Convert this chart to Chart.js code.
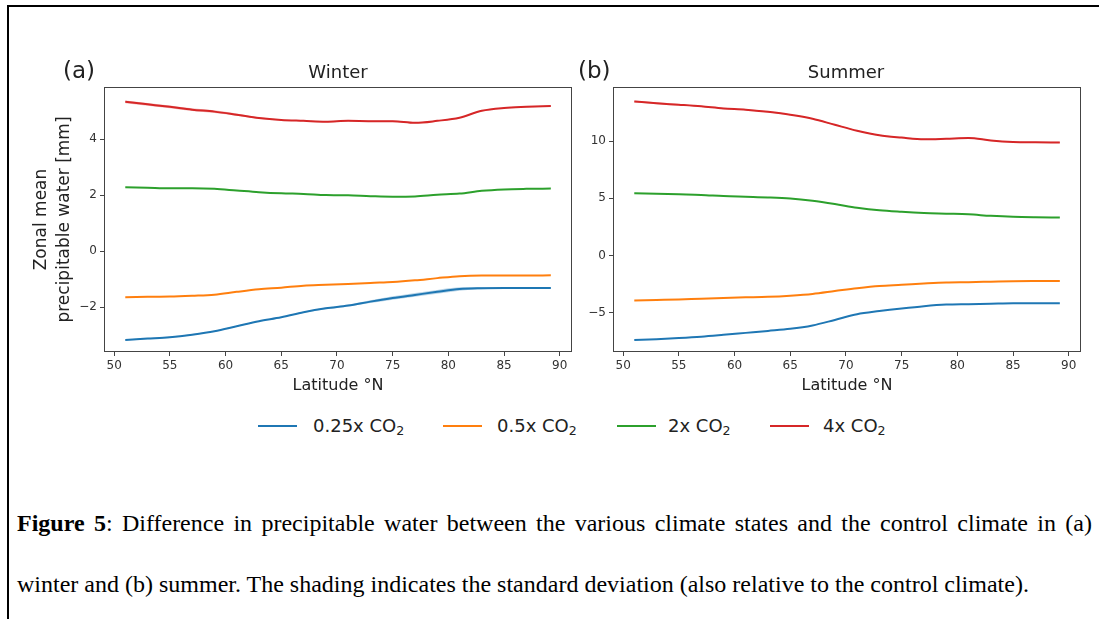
<!DOCTYPE html>
<html>
<head>
<meta charset="utf-8">
<script src="https://cdn.jsdelivr.net/npm/chart.js@4.4.1/dist/chart.umd.min.js"></script>
<style>
    body { margin: 0; background: #fff; width: 1099px; height: 619px; overflow: hidden; position: relative; font-family: "DejaVu Sans", sans-serif; color: #222; }
    #frame { position: absolute; left: 7px; top: 5px; width: 1200px; height: 700px; border-top: 2px solid #000; border-left: 2px solid #000; }
    canvas { position: absolute; }
    #chartA { left: 0; top: 50px; }
    #chartB { left: 540px; top: 50px; }
    .lbl { position: absolute; line-height: 1; white-space: nowrap; }
    .panel-tag { font-size: 23px; top: 59px; }
    .panel-title { font-size: 18px; top: 63px; transform: translateX(-50%); }
    .leg { position: absolute; top: 416px; height: 20px; font-size: 18px; line-height: 20px; white-space: nowrap; }
    .swatch { position: absolute; top: 425px; width: 39px; height: 2px; }
    .leg sub { font-size: 70%; vertical-align: -3px; line-height: 0; }
    .caption { position: absolute; left: 17px; font-family: "Liberation Serif", "Times New Roman", serif; font-size: 24px; line-height: 1; white-space: nowrap; color: #000; }
    #cap1 { top: 511px; width: 1075px; text-align: justify; text-align-last: justify; }
    #cap2 { top: 572px; }
</style>
</head>
<body>
<div id="frame"></div>

<canvas id="chartA" width="590" height="360"></canvas>
<canvas id="chartB" width="559" height="360"></canvas>

<div class="lbl panel-tag" style="left:63px">(a)</div>
<div class="lbl panel-title" style="left:338px">Winter</div>
<div class="lbl panel-tag" style="left:578px">(b)</div>
<div class="lbl panel-title" style="left:846px">Summer</div>

<!-- legend -->
<span class="swatch" style="left:258px;background:#1f77b4"></span>
<span class="leg" style="left:313px">0.25x CO<sub>2</sub></span>
<span class="swatch" style="left:443px;background:#ff7f0e"></span>
<span class="leg" style="left:497px">0.5x CO<sub>2</sub></span>
<span class="swatch" style="left:617px;background:#2ca02c"></span>
<span class="leg" style="left:668px">2x CO<sub>2</sub></span>
<span class="swatch" style="left:770px;background:#d62728"></span>
<span class="leg" style="left:823px">4x CO<sub>2</sub></span>

<div class="caption" id="cap1"><b>Figure 5</b>: Difference in precipitable water between the various climate states and the control climate in (a)</div>
<div class="caption" id="cap2">winter and (b) summer. The shading indicates the standard deviation (also relative to the control climate).</div>

<script>
// Latitudes (deg N) where values were read
var latitudes = [51, 53, 55, 57, 59, 61, 63, 65, 67, 69, 71, 73, 75, 77, 79, 81, 83, 85, 87, 89.2];

// Winter (a)
var winterQuarter = [-3.17, -3.12, -3.07, -2.98, -2.86, -2.68, -2.50, -2.36, -2.18, -2.04, -1.94, -1.80, -1.67, -1.56, -1.45, -1.35, -1.32, -1.31, -1.31, -1.31];
var winterHalf = [-1.64, -1.63, -1.62, -1.59, -1.55, -1.45, -1.36, -1.30, -1.23, -1.20, -1.17, -1.13, -1.10, -1.04, -0.96, -0.89, -0.87, -0.87, -0.87, -0.86];
var winterDouble = [2.29, 2.27, 2.25, 2.25, 2.23, 2.17, 2.11, 2.07, 2.05, 2.01, 2.00, 1.97, 1.95, 1.96, 2.02, 2.06, 2.16, 2.21, 2.23, 2.24];
var winterQuad = [5.34, 5.25, 5.16, 5.06, 4.99, 4.88, 4.76, 4.69, 4.66, 4.63, 4.66, 4.65, 4.65, 4.59, 4.66, 4.77, 5.02, 5.12, 5.16, 5.19];
var winterQuarterStd = [0.02, 0.02, 0.02, 0.02, 0.02, 0.02, 0.02, 0.02, 0.02, 0.03, 0.03, 0.05, 0.06, 0.07, 0.07, 0.06, 0.04, 0.02, 0.02, 0.02];
var winterQuadStd = [0.05, 0.05, 0.05, 0.05, 0.05, 0.04, 0.03, 0.02, 0.02, 0.02, 0.02, 0.02, 0.02, 0.02, 0.02, 0.02, 0.02, 0.02, 0.02, 0.02];

// Summer (b)
var summerQuarter = [-7.37, -7.30, -7.20, -7.08, -6.92, -6.75, -6.58, -6.40, -6.10, -5.62, -5.12, -4.85, -4.62, -4.42, -4.28, -4.24, -4.20, -4.16, -4.16, -4.16];
var summerHalf = [-3.93, -3.88, -3.83, -3.76, -3.70, -3.65, -3.60, -3.50, -3.35, -3.10, -2.85, -2.65, -2.55, -2.44, -2.35, -2.32, -2.28, -2.24, -2.23, -2.23];
var summerDouble = [5.45, 5.40, 5.35, 5.30, 5.20, 5.14, 5.08, 4.98, 4.78, 4.50, 4.18, 3.95, 3.82, 3.72, 3.66, 3.60, 3.47, 3.38, 3.34, 3.32];
var summerQuad = [13.46, 13.30, 13.17, 13.03, 12.85, 12.74, 12.55, 12.30, 11.95, 11.42, 10.90, 10.50, 10.30, 10.15, 10.20, 10.27, 10.05, 9.92, 9.89, 9.88];
var summerQuadStd = [0.08, 0.08, 0.07, 0.06, 0.05, 0.05, 0.05, 0.05, 0.05, 0.05, 0.05, 0.05, 0.05, 0.05, 0.05, 0.05, 0.05, 0.05, 0.05, 0.05];

// Tick labels
var latTicks = [50, 55, 60, 65, 70, 75, 80, 85, 90];
var winterTicks = [-2, 0, 2, 4];
var summerTicks = [-5, 0, 5, 10];

var colors = { quarter: '#1f77b4', half: '#ff7f0e', double: '#2ca02c', quad: '#d62728' };

Chart.defaults.font.family = '"DejaVu Sans", sans-serif';
Chart.defaults.color = '#333';

function points(values, offsets, sign) {
    return latitudes.map(function (lat, i) {
        return { x: lat, y: values[i] + (offsets ? sign * offsets[i] : 0) };
    });
}

function lineSet(values, color) {
    return {
        data: points(values), borderColor: color, borderWidth: 2, pointRadius: 0,
        cubicInterpolationMode: 'monotone', fill: false
    };
}

function bandSets(values, std, color, alpha) {
    var base = { borderWidth: 0, pointRadius: 0, cubicInterpolationMode: 'monotone', borderColor: 'transparent' };
    return [
        Object.assign({ data: points(values, std, 1), fill: false }, base),
        Object.assign({ data: points(values, std, -1), fill: '-1', backgroundColor: Chart.helpers.color(color).alpha(alpha).rgbString() }, base)
    ];
}

// draws the full matplotlib-like box round the plot area
var frameBox = {
    id: 'frameBox',
    afterDraw: function (chart) {
        var a = chart.chartArea, ctx = chart.ctx;
        ctx.save();
        ctx.strokeStyle = '#444';
        ctx.lineWidth = 1;
        ctx.strokeRect(Math.round(a.left) + 0.5, Math.round(a.top) + 0.5, Math.round(a.right - a.left) - 1, Math.round(a.bottom - a.top) - 1);
        ctx.restore();
    }
};

function minus(v) { return String(v).replace('-', '\u2212'); }

function makeChart(id, datasets, yMin, yMax, yTicks, yWidth, yTitle) {
    var ctx = document.getElementById(id).getContext('2d');
    return new Chart(ctx, {
        type: 'line',
        data: { datasets: datasets },
        options: {
            responsive: false,
            animation: false,
            devicePixelRatio: 1,
            layout: { padding: { left: 0, top: 37, right: 18, bottom: 0 } },
            plugins: { legend: { display: false }, tooltip: { enabled: false } },
            scales: {
                x: {
                    type: 'linear', min: 49.09, max: 91.1,
                    afterBuildTicks: function (scale) { scale.ticks = latTicks.map(function (v) { return { value: v }; }); },
                    afterFit: function (scale) { scale.height = 58; },
                    grid: { drawOnChartArea: false, drawTicks: true, tickLength: 4, color: '#444' },
                    border: { display: false },
                    ticks: { font: { size: 12 }, padding: 3, maxRotation: 0, autoSkip: false },
                    title: { display: true, text: 'Latitude \u00b0N', font: { size: 16 }, color: '#222', padding: { top: 0, bottom: 15 } }
                },
                y: {
                    type: 'linear', min: yMin, max: yMax,
                    afterBuildTicks: function (scale) { scale.ticks = yTicks.map(function (v) { return { value: v }; }); },
                    afterFit: function (scale) { scale.width = yWidth; },
                    grid: { drawOnChartArea: false, drawTicks: true, tickLength: 4, color: '#444' },
                    border: { display: false },
                    ticks: { font: { size: 12 }, padding: 3, autoSkip: false, callback: function (v) { return minus(v); } },
                    title: { display: !!yTitle, text: yTitle || '', font: { size: 17, lineHeight: 1.3 }, color: '#222', padding: { top: 31, bottom: 0 } }
                }
            }
        },
        plugins: [frameBox]
    });
}

var winterSets = []
    .concat(bandSets(winterQuarter, winterQuarterStd, colors.quarter, 0.3))
    .concat(bandSets(winterQuad, winterQuadStd, colors.quad, 0.3))
    .concat([lineSet(winterQuarter, colors.quarter), lineSet(winterHalf, colors.half), lineSet(winterDouble, colors.double), lineSet(winterQuad, colors.quad)]);

var summerSets = []
    .concat(bandSets(summerQuad, summerQuadStd, colors.quad, 0.3))
    .concat([lineSet(summerQuarter, colors.quarter), lineSet(summerHalf, colors.half), lineSet(summerDouble, colors.double), lineSet(summerQuad, colors.quad)]);

makeChart('chartA', winterSets, -3.6, 5.87, winterTicks, 104, ['Zonal mean', 'precipitable water [mm]']);
makeChart('chartB', summerSets, -8.42, 14.72, summerTicks, 73, null);
</script>
</body>
</html>
